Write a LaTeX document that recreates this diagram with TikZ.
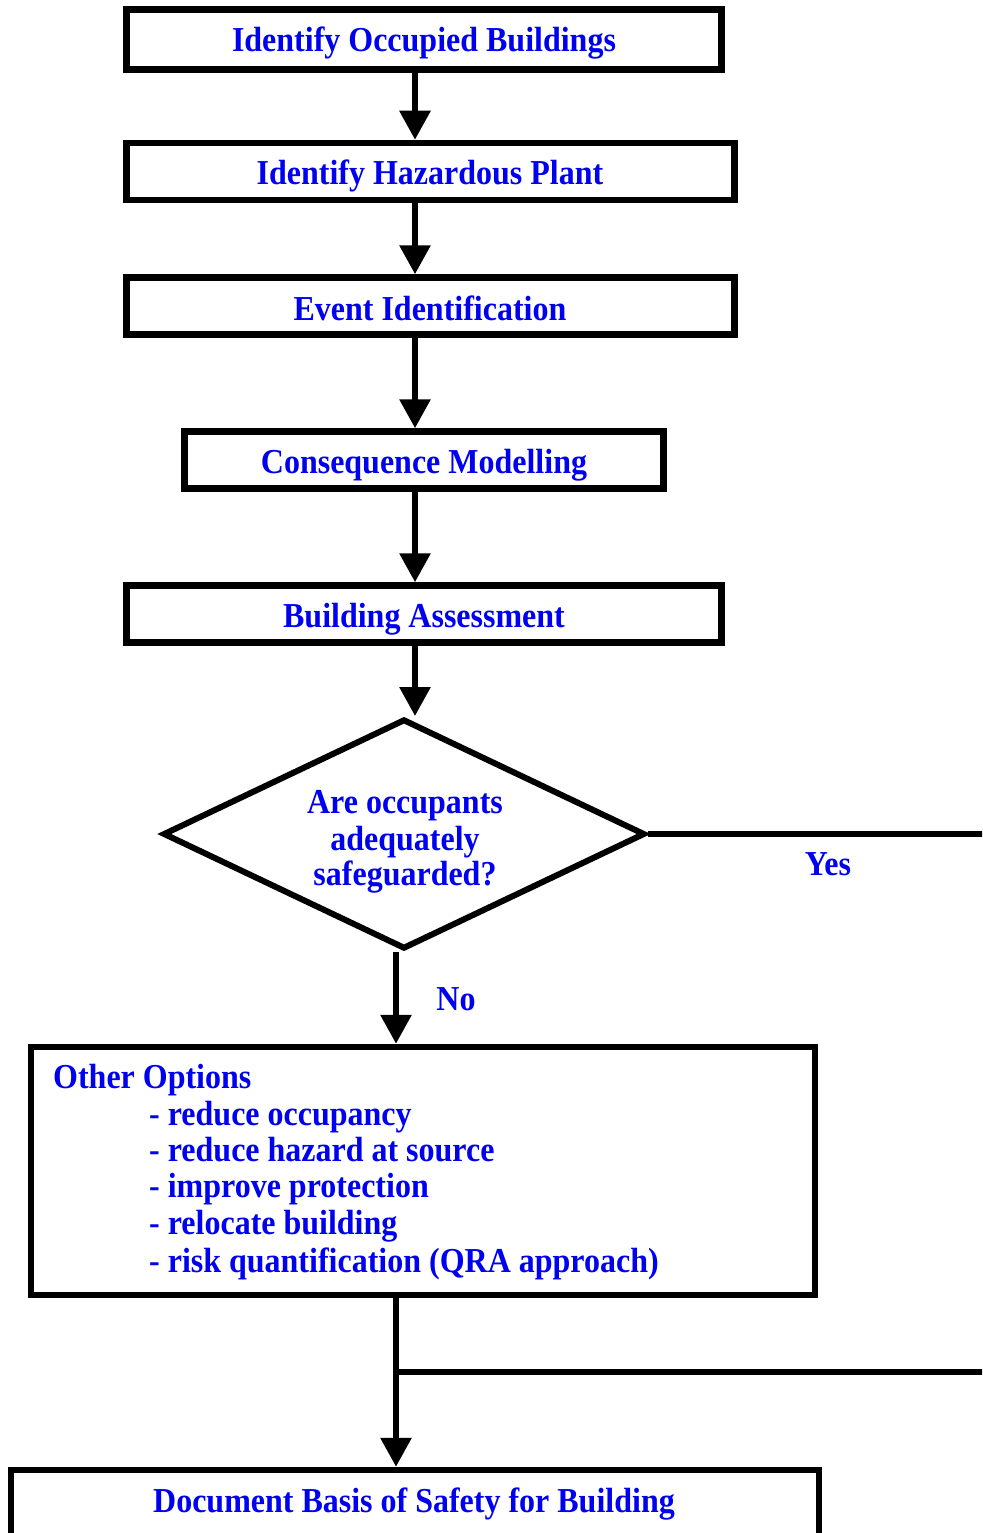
\documentclass[tikz,border=0pt]{standalone}
\usepackage{fontspec}
\setmainfont{Liberation Serif}[FakeStretch=0.914]
\usetikzlibrary{arrows.meta,shapes.geometric}
\definecolor{txt}{RGB}{0,0,240}
\begin{document}
\begin{tikzpicture}[x=1pt,y=-1pt,
  box/.style={draw, line width=6.5pt, inner sep=0pt},
  lbl/.style={text=txt, font=\bfseries\fontsize{35}{38}\selectfont, anchor=base, inner sep=0pt},
  lbll/.style={lbl, anchor=base west},
  conn/.style={line width=6pt, -{Triangle[length=29pt,width=30pt]}},
  plain/.style={line width=5.5pt}]
\useasboundingbox (0,0) rectangle (982,1533);
\clip (0,0) rectangle (982,1533);
% boxes
\node[box, minimum width=595pt, minimum height=60pt] (b1) at (424,39.5) {};
\node[box, minimum width=608pt, minimum height=57pt] (b2) at (430.5,171.5) {};
\node[box, minimum width=608pt, minimum height=57pt] (b3) at (430.5,306) {};
\node[box, minimum width=479pt, minimum height=57pt] (b4) at (424,460) {};
\node[box, minimum width=595pt, minimum height=57pt] (b5) at (424,614) {};
\node[box, line width=6pt, diamond, minimum width=482pt, minimum height=230pt] (dec) at (404,834) {};
\node[box, minimum width=784pt, minimum height=248pt] (b6) at (423,1171) {};
\node[box, minimum width=808pt, minimum height=82pt] (b7) at (415,1511) {};
% texts
\node[lbl] (t1) at (424,52) {Identify Occupied Buildings};
\node[lbl] (t2) at (430,185) {Identify Hazardous Plant};
\node[lbl] (t3) at (430,320) {Event Identification};
\node[lbl] (t4) at (424,473) {Consequence Modelling};
\node[lbl] (t5) at (424,627) {Building Assessment};
\node[lbl] (q1) at (405,813) {Are occupants};
\node[lbl] (q2) at (405,850) {adequately};
\node[lbl] (q3) at (405,885) {safeguarded?};
\node[lbl] (yes) at (828,875) {Yes};
\node[lbl] (no) at (456,1010) {No};
\node[lbll] (o0) at (53,1088) {Other Options};
\node[lbll] (o1) at (149,1125) {- reduce occupancy};
\node[lbll] (o2) at (149,1161) {- reduce hazard at source};
\node[lbll] (o3) at (149,1197) {- improve protection};
\node[lbll] (o4) at (149,1234) {- relocate building};
\node[lbll] (o5) at (149,1272) {- risk quantification (QRA approach)};
\node[lbl] (t7) at (414,1512) {Document Basis of Safety for Building};
% connector helpers
\coordinate (ax) at (415,0);
\coordinate (bx) at (396,0);
\coordinate (yesend) at (990,834);
\coordinate (br) at (396,1372);
\coordinate (brend) at (990,1372);
% connectors
\draw[conn] (b1.south -| ax) -- (b2.north -| ax);
\draw[conn] (b2.south -| ax) -- (b3.north -| ax);
\draw[conn] (b3.south -| ax) -- (b4.north -| ax);
\draw[conn] (b4.south -| ax) -- (b5.north -| ax);
\draw[conn] (b5.south -| ax) -- (dec.north -| ax);
\draw[plain] (dec.east) -- (yesend);
\draw[conn] (dec.south -| bx) -- (b6.north -| bx);
\draw[conn] (b6.south -| bx) -- (b7.north -| bx);
\draw[plain] (br) -- (brend);
\end{tikzpicture}
\end{document}
